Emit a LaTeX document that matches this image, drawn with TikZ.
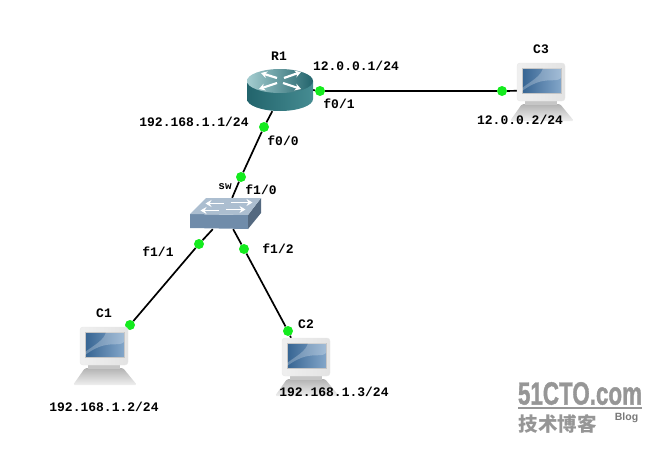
\documentclass[tikz,border=0pt]{standalone}
\usepackage{fontspec}
\setmainfont{Liberation Mono}
\newfontfamily\sansfont{Liberation Sans}
\newfontfamily\markfont[FakeBold=1.5]{Liberation Sans Bold}
\newfontfamily\cjkfont{Noto Sans CJK SC}
\usetikzlibrary{arrows.meta}
\pgfdeclarelayer{links}
\pgfsetlayers{links,main}
\definecolor{portgreen}{RGB}{20,235,30}
\definecolor{routerdark}{RGB}{34,100,108}
\definecolor{routermid}{RGB}{70,140,146}
\definecolor{routerlight}{RGB}{165,205,208}
\definecolor{swfront}{RGB}{112,140,170}
\definecolor{swtop}{RGB}{172,190,208}
\definecolor{screenblue}{RGB}{64,118,172}
\definecolor{markgray}{RGB}{150,150,150}
\tikzset{
    device/.style={rectangle, inner sep=0pt},
    router/.style={device, minimum width=66pt, minimum height=42pt},
    switchbox/.style={device, minimum width=71pt, minimum height=31pt},
    pc/.style={device, minimum width=48pt, minimum height=38pt},
    port/.style={circle, fill=portgreen, inner sep=0pt, minimum size=10pt},
    lbl/.style={inner sep=0pt, font=\fontsize{13}{14}\selectfont\bfseries},
    link/.style={line width=1.7pt, black},
    whitearrow/.style={-{Stealth[length=6pt,width=7pt]}, white, line width=2.2pt}
}
% computer: monitor, screen and foot around the node centre
\newcommand{\pcicon}[1]{
    \begin{scope}[shift={(#1.center)}]
        \path[top color=gray!60, bottom color=gray!12, rounded corners=1.5pt] (-19,22) -- (19,22) -- (33,39) -- (-31,39) -- cycle;
        \fill[gray!45] (-16,19) rectangle (16,23);
        \path[left color=gray!12, right color=gray!22, draw=gray!18, rounded corners=3pt] (-24,-19) rectangle (24,19);
        \path[left color=screenblue!85!black, right color=screenblue!65, draw=gray!45] (-19,-14) rectangle (20,11);
        \fill[white, opacity=.25] (2,-14) -- (20,-14) -- (20,-4) .. controls (14,2) and (4,-8) .. (-19,9) -- (-19,6) .. controls (-8,-2) and (0,-6) .. cycle;
    \end{scope}
}
% router: drum with four white arrows on top
\newcommand{\routericon}[1]{
    \begin{scope}[shift={(#1.center)}]
        \path[left color=routerdark, right color=routermid] (-33,-9) -- (-33,9) arc[start angle=180, end angle=360, x radius=33, y radius=-12] -- (33,-9) -- cycle;
        \path[left color=routerlight, right color=routerdark] (0,-9) ellipse[x radius=33, y radius=12];
        \draw[whitearrow] (-3,-12) -- (-19,-17);
        \draw[whitearrow] (4,-12) -- (21,-18);
        \draw[whitearrow] (-3,-7) -- (-21,-1);
        \draw[whitearrow] (3,-7) -- (21,-1);
    \end{scope}
}
% switch: flat box in perspective
\newcommand{\switchicon}[1]{
    \begin{scope}[shift={(#1.center)}]
        \fill[swfront] (-35.5,0.5) -- (22.5,1.5) -- (22.5,15.5) -- (-35.5,14.5) -- cycle;
        \fill[swfront!75!black] (22.5,1.5) -- (35.5,-15.5) -- (35.5,-0.5) -- (22.5,15.5) -- cycle;
        \fill[swtop] (-35.5,0.5) -- (-19.5,-15.5) -- (35.5,-15.5) -- (22.5,1.5) -- cycle;
        \draw[whitearrow, line width=1.9pt] (-2,-10) -- (-20,-10);
        \draw[whitearrow, line width=1.9pt] (5,-11) -- (27,-11);
        \draw[whitearrow, line width=1.9pt] (-7,-3) -- (-25,-3);
        \draw[whitearrow, line width=1.9pt] (0,-4) -- (20,-4);
    \end{scope}
}

\begin{document}
\begin{tikzpicture}[x=1pt, y=-1pt]
    \useasboundingbox (0,0) rectangle (660,452);

    \node[router] (R1) at (280,90) {};
    \node[switchbox] (sw) at (225.5,213.5) {};
    \node[pc] (C1) at (104,346) {};
    \node[pc] (C2) at (306,357) {};
    \node[pc] (C3) at (541,82) {};

    \node[port] (R1f01) at (320,91) {};
    \node[port] (C3e0) at (502,91) {};
    \node[port] (R1f00) at (264,127) {};
    \node[port] (swf10) at (241,177) {};
    \node[port] (swf11) at (199,244) {};
    \node[port] (swf12) at (244,249) {};
    \node[port] (C1e0) at (130,325) {};
    \node[port] (C2e0) at (288,331) {};

    \begin{pgfonlayer}{links}
        \draw[link] (R1.east) -- (R1f01) -- (C3e0) -- (C3.200);
        \draw[link] (R1.250) -- (R1f00) -- (swf10) -- (sw.67);
        \draw[link] (sw.231) -- (swf11) -- (C1e0);
        \draw[link] (sw.296) -- (swf12) -- (C2e0) -- (C2.128);
    \end{pgfonlayer}

    \routericon{R1}
    \switchicon{sw}
    \pcicon{C1}
    \pcicon{C2}
    \pcicon{C3}

    \node[lbl] (R1name) at (279,56) {R1};
    \node[lbl] (swname) at (225,187) {\fontsize{11}{12}\selectfont sw};
    \node[lbl] (C1name) at (104,313) {C1};
    \node[lbl] (C2name) at (306,324) {C2};
    \node[lbl] (C3name) at (541,49) {C3};

    \node[lbl] (ipR1a) at (356,66) {12.0.0.1/24};
    \node[lbl] (ipR1b) at (194,122) {192.168.1.1/24};
    \node[lbl] (ipC1) at (104,407) {192.168.1.2/24};
    \node[lbl] (ipC2) at (334,392) {192.168.1.3/24};
    \node[lbl] (ipC3) at (520,120) {12.0.0.2/24};

    \node[lbl] (lf01) at (339,104) {f0/1};
    \node[lbl] (lf00) at (283,141) {f0/0};
    \node[lbl] (lf10) at (261,190) {f1/0};
    \node[lbl] (lf11) at (158,252) {f1/1};
    \node[lbl] (lf12) at (278,249) {f1/2};

    % site mark in the corner
    \node[inner sep=0pt, text=markgray] (markurl) at (580,393.5) {\scalebox{.7}[1]{\markfont\fontsize{32}{34}\selectfont 51CTO.com}};
    \draw[markgray, line width=2pt] (518,408) -- (642,408);
    \node[inner sep=0pt, text=markgray] (markcn) at (557.5,424) {\cjkfont\bfseries\fontsize{19.5}{21}\selectfont 技术博客};
    \node[inner sep=0pt, text=markgray!80!black] (markblog) at (626.5,418) {\sansfont\bfseries\fontsize{10.5}{12}\selectfont Blog};
\end{tikzpicture}
\end{document}
